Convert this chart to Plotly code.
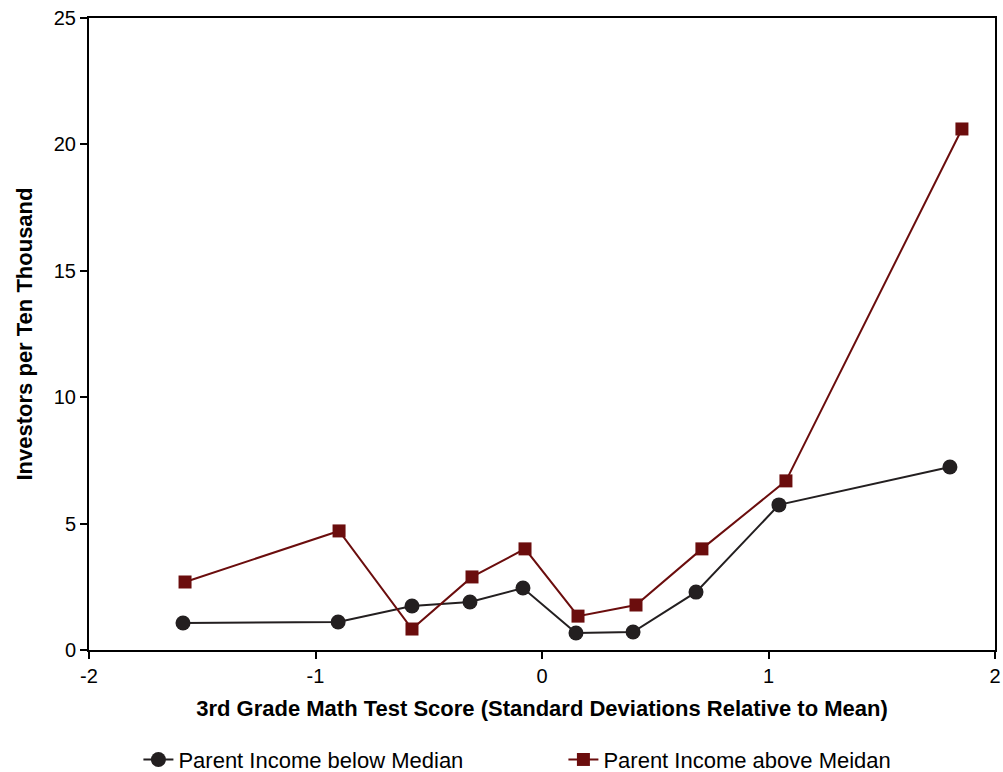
import plotly.graph_objects as go

x_below = [-1.585, -0.90, -0.574, -0.318, -0.084, 0.150, 0.402, 0.680, 1.046, 1.801]
y_below = [1.07, 1.11, 1.74, 1.90, 2.45, 0.67, 0.71, 2.29, 5.74, 7.24]

x_above = [-1.576, -0.896, -0.574, -0.309, -0.075, 0.159, 0.415, 0.706, 1.077, 1.854]
y_above = [2.69, 4.71, 0.83, 2.89, 4.00, 1.34, 1.78, 4.00, 6.69, 20.61]

x_ticks = [-2, -1, 0, 1, 2]
x_tick_labels = ["-2", "-1", "0", "1", "2"]
y_ticks = [0, 5, 10, 15, 20, 25]

name_below = "Parent Income below Median"
name_above = "Parent Income above Meidan"

FONT = "Liberation Sans, Arial, sans-serif"

fig = go.Figure()
fig.add_trace(go.Scatter(x=x_below, y=y_below, mode="lines+markers", name=name_below,
                         line=dict(color="#231f20", width=2),
                         marker=dict(symbol="circle", size=15, color="#231f20")))
fig.add_trace(go.Scatter(x=x_above, y=y_above, mode="lines+markers", name=name_above,
                         line=dict(color="#6b0d0d", width=2),
                         marker=dict(symbol="square", size=13, color="#6b0d0d")))

fig.update_layout(
    width=1003, height=772,
    margin=dict(l=89, r=8, t=18, b=122, autoexpand=False),
    plot_bgcolor="white", paper_bgcolor="white",
    font=dict(family=FONT, size=20, color="black"),
    showlegend=True,
    legend=dict(orientation="h", xref="container", yref="container",
                x=0.138, xanchor="left", y=0.016, yanchor="middle",
                font=dict(size=22, family=FONT, color="black"),
                entrywidth=380, itemwidth=30, tracegroupgap=0),
    xaxis=dict(range=[-2, 2], tickvals=x_ticks, ticktext=x_tick_labels,
               showgrid=False, zeroline=False, automargin=False,
               showline=True, linecolor="black", linewidth=2, mirror=True,
               ticks="outside", ticklen=7, tickcolor="black", tickwidth=1.5,
               tickfont=dict(size=20),
               title=dict(text="<b>3rd Grade Math Test Score (Standard Deviations Relative to Mean)</b>",
                          font=dict(size=22))),
    yaxis=dict(range=[0, 25], tickvals=y_ticks,
               showgrid=False, zeroline=False, automargin=False,
               showline=True, linecolor="black", linewidth=2, mirror=True,
               ticks="outside", ticklen=7, tickcolor="black", tickwidth=1.5,
               tickfont=dict(size=20),
               title=dict(text="<b>Investors per Ten Thousand</b>", font=dict(size=22))),
)

fig.write_html("out.html", config={"displayModeBar": False},
               post_script="document.body.style.margin='0';document.body.style.padding='0';")
